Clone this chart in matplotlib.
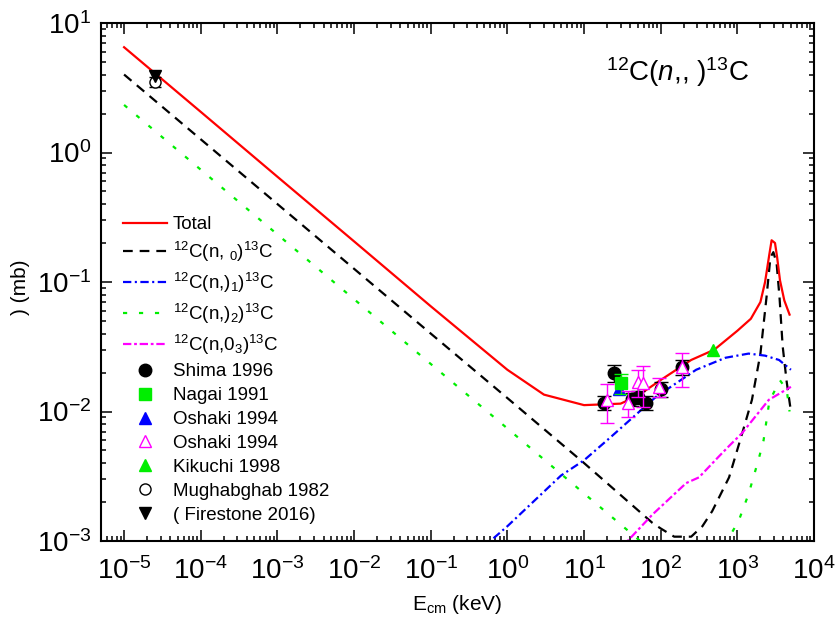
import matplotlib
matplotlib.use("Agg")
import matplotlib.pyplot as plt
import numpy as np
from matplotlib.ticker import LogLocator, NullFormatter, FixedLocator

plt.rcParams['font.family'] = ['Liberation Sans', 'DejaVu Sans']
plt.rcParams['mathtext.fontset'] = 'custom'
plt.rcParams['mathtext.rm'] = 'Liberation Sans'
plt.rcParams['mathtext.it'] = 'Liberation Sans:italic'
plt.rcParams['mathtext.bf'] = 'Liberation Sans:bold'
plt.rcParams['lines.scale_dashes'] = False

# ---- curves (E in keV, sigma in mb)
tot_e = [1e-5, 1e-4, 1e-3, 1e-2, 1e-1, 1, 3, 10, 30, 50, 100, 250, 500, 1000,
         1500, 2000, 2300, 2600, 2800, 3100, 3300, 3600, 4100, 4800]
tot_s = [6.5, 2.06, 0.65, 0.206, 0.065, 0.021, 0.0135, 0.0112, 0.0115, 0.0132,
         0.0175, 0.025, 0.030, 0.042, 0.052, 0.07, 0.10, 0.16, 0.21, 0.20,
         0.156, 0.103, 0.072, 0.056]

g0_e = [1e-5, 1e-3, 1e-1, 1, 10, 78, 100, 150, 250, 350, 470, 780, 1150, 1550,
        2000, 2400, 2700, 2950, 3250, 3550, 3900, 4400, 5000]
g0_s = [4.0, 0.40, 0.040, 0.0127, 0.0040, 0.00138, 0.00125, 0.00108, 0.00108,
        0.0013, 0.0017, 0.0031, 0.0067, 0.0123, 0.028, 0.076, 0.155, 0.17,
        0.14, 0.076, 0.032, 0.017, 0.010]

g1_e = [0.3, 1, 5, 10, 22, 87, 290, 700, 1400, 2300, 3500, 5000]
g1_s = [0.0007, 0.0013, 0.0032, 0.0042, 0.0063, 0.013, 0.021, 0.026, 0.028,
        0.027, 0.025, 0.021]

g2_e = [1e-5, 1e-3, 1e-1, 1, 10, 50, 100, 700, 1050, 1400, 1900, 2200, 2600,
        2950, 3600, 4400, 4800]
g2_s = [2.33, 0.233, 0.0233, 0.0074, 0.00233, 0.00104, 0.00074, 0.00095,
        0.00145, 0.0023, 0.0043, 0.006, 0.0117, 0.0138, 0.0174, 0.0148, 0.010]

g3_e = [20, 37, 78, 215, 316, 575, 776, 1150, 2570, 5000]
g3_s = [0.0007, 0.001, 0.0016, 0.0028, 0.0031, 0.0045, 0.0054, 0.0068,
        0.0123, 0.0155]

# ---- measurements
shima_e = [18, 24.5, 42, 50, 65, 100, 190]
shima_s = [0.0117, 0.0199, 0.0125, 0.0129, 0.0117, 0.015, 0.022]
shima_err = [0.0015, 0.003, 0.0015, 0.0015, 0.0015, 0.002, 0.003]

nagai_e = [30]
nagai_s = [0.0166]
nagai_err = [0.003]

oshaki1_e = [29]
oshaki1_s = [0.0148]

oshaki2_e = [20, 38, 50, 59, 95, 190]
oshaki2_s = [0.0123, 0.0117, 0.017, 0.0166, 0.0155, 0.022]
oshaki2_err = [0.0041, 0.0027, 0.004, 0.0058, 0.0025, 0.0065]

kikuchi_e = [480]
kikuchi_s = [0.0298]

mugh_e = [2.53e-5]
mugh_s = [3.53]
mugh_err = [0.3]

fire_e = [2.53e-5]
fire_s = [3.9]

xticks = [1e-5, 1e-4, 1e-3, 1e-2, 1e-1, 1, 10, 100, 1000, 10000]
yticks = [1e-3, 1e-2, 1e-1, 1, 10]

fig = plt.figure(figsize=(8.36, 6.29), dpi=100)
ax = fig.add_axes([101 / 836, 1 - 541 / 629, 713 / 836, 518 / 629])

lw = 1.6
h_tot, = ax.plot(tot_e, tot_s, color='red', lw=lw, label='Total', zorder=3)
h_g0, = ax.plot(g0_e, g0_s, color='black', lw=lw, dashes=(7, 5),
                label='$^{12}$C(n, $_{0}$)$^{13}$C', zorder=2)
h_g1, = ax.plot(g1_e, g1_s, color='blue', lw=lw, dashes=(6, 2.5, 1.5, 2.5),
                label='$^{12}$C(n,)$_{1}$)$^{13}$C', zorder=2)
h_g2, = ax.plot(g2_e, g2_s, color='#00ee00', lw=lw, dashes=(3, 8.5),
                label='$^{12}$C(n,)$_{2}$)$^{13}$C', zorder=2)
h_g3, = ax.plot(g3_e, g3_s, color='magenta', lw=lw, dashes=(6, 2, 2, 2),
                label='$^{12}$C(n,0$_{3}$)$^{13}$C', zorder=2)

ms = 9
ax.errorbar(shima_e, shima_s, yerr=shima_err, fmt='none', ecolor='black',
            elinewidth=1, capsize=5, zorder=4)
h_sh, = ax.plot(shima_e, shima_s, 'o', color='black', ms=ms, ls='none',
                label='Shima 1996', zorder=4)
ax.errorbar(nagai_e, nagai_s, yerr=nagai_err, fmt='none', ecolor='#00ee00',
            elinewidth=1, capsize=5, zorder=5)
h_os1, = ax.plot(oshaki1_e, oshaki1_s, '^', color='blue', ms=ms, ls='none',
                 label='Oshaki 1994', zorder=4)
h_na, = ax.plot(nagai_e, nagai_s, 's', color='#00ee00', ms=8, ls='none',
                label='Nagai 1991', zorder=5)
ax.errorbar(oshaki2_e, oshaki2_s, yerr=oshaki2_err, fmt='none',
            ecolor='magenta', elinewidth=1, capsize=5, zorder=6)
h_os2, = ax.plot(oshaki2_e, oshaki2_s, '^', mfc='white', mec='magenta',
                 mew=1, ms=ms, ls='none', label='Oshaki 1994', zorder=6)
h_ki, = ax.plot(kikuchi_e, kikuchi_s, '^', color='#00ee00', ms=ms,
                ls='none', label='Kikuchi 1998', zorder=6)
ax.errorbar(mugh_e, mugh_s, yerr=mugh_err, fmt='none', ecolor='black',
            elinewidth=1, capsize=4, zorder=5)
h_mu, = ax.plot(mugh_e, mugh_s, 'o', mfc='white', mec='black', mew=1, ms=8,
                ls='none', label='Mughabghab 1982', zorder=5)
h_fi, = ax.plot(fire_e, fire_s, 'v', color='black', ms=ms, ls='none',
                label='( Firestone 2016)', zorder=6)

ax.set_xscale('log')
ax.set_yscale('log')
ax.set_xlim(5e-6, 1e4)
ax.set_ylim(1e-3, 10)

ax.xaxis.set_major_locator(FixedLocator(xticks))
ax.yaxis.set_major_locator(FixedLocator(yticks))
ax.xaxis.set_minor_locator(LogLocator(base=10, subs=np.arange(2, 10), numticks=100))
ax.yaxis.set_minor_locator(LogLocator(base=10, subs=np.arange(2, 10), numticks=100))
ax.xaxis.set_minor_formatter(NullFormatter())
ax.yaxis.set_minor_formatter(NullFormatter())

ax.tick_params(which='both', direction='in', top=True, right=True,
               labelsize=20)
ax.tick_params(which='major', length=8, width=1.1)
ax.tick_params(axis='x', which='major', pad=12)
ax.tick_params(axis='y', which='major', pad=7)
ax.tick_params(which='minor', length=3.6, width=1.1)
for sp in ax.spines.values():
    sp.set_linewidth(1.5)

fig.text(457 / 836, 1 - 605 / 629, 'E$_{\\rm cm}$ (keV)', fontsize=15,
         ha='center', va='center')
fig.text(20 / 836, 1 - 287 / 629, ') (mb)', fontsize=15, rotation=90,
         ha='center', va='center')
ax.text(678 / 836, 1 - 72 / 629, '$^{12}$C($n$,, )$^{13}$C', fontsize=20,
        ha='center', va='center', transform=fig.transFigure)

handles = [h_tot, h_g0, h_g1, h_g2, h_g3, h_sh, h_na, h_os1, h_os2, h_ki,
           h_mu, h_fi]
ax.legend(handles=handles, loc='upper left',
          bbox_to_anchor=(123 / 836, 1 - 216 / 629),
          bbox_transform=fig.transFigure, frameon=False, fontsize=13.5,
          handlelength=2.35, handletextpad=0.3, borderpad=0,
          borderaxespad=0, labelspacing=0.36, numpoints=1)

fig.savefig('out.png', dpi=100)
